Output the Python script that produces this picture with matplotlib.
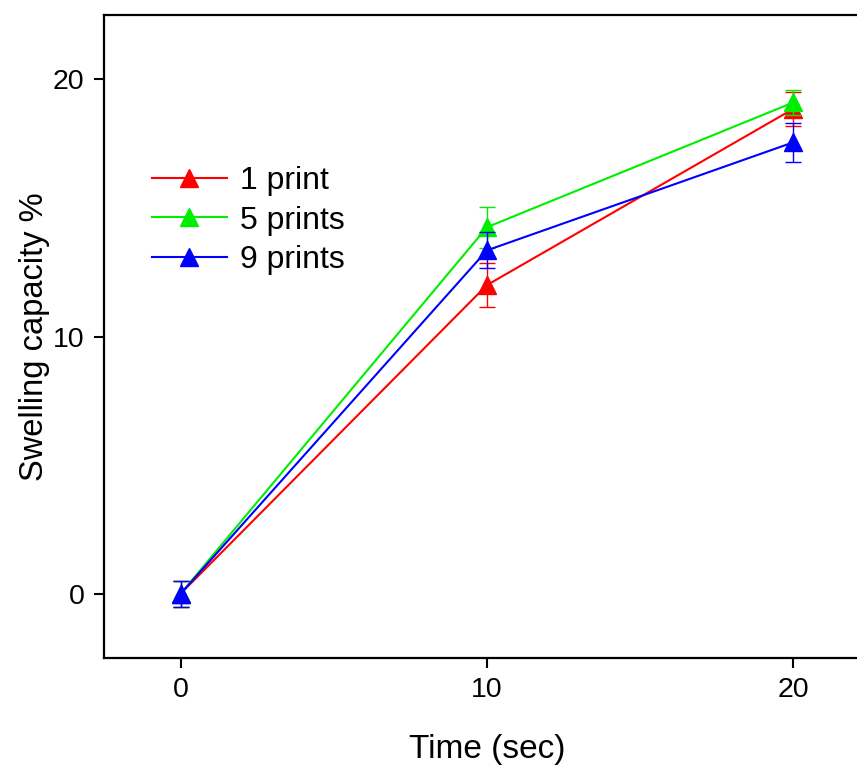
import matplotlib
matplotlib.use('Agg')
import matplotlib.pyplot as plt
import numpy as np

plt.rcParams['font.family'] = ['Liberation Sans', 'DejaVu Sans']

time = [0, 10, 20]
labels = ['1 print', '5 prints', '9 prints']
colors = ['#ff0000', '#00ee00', '#0000ff']
swelling = [
    [0.0, 12.0, 18.85],
    [0.0, 14.25, 19.1],
    [0.0, 13.35, 17.55],
]
errors = [
    [0.5, 0.85, 0.65],
    [0.5, 0.8, 0.5],
    [0.5, 0.7, 0.77],
]

fig = plt.figure(figsize=(8.57, 7.67), dpi=100)
ax = fig.add_axes([0.1214, 0.1421, 0.8936, 0.8383])

for y, e, c, lab in zip(swelling, errors, colors, labels):
    ax.errorbar(time, y, yerr=e, fmt='none', ecolor=c, elinewidth=1.0,
                capsize=6, capthick=1.0)
    ax.plot(time, y, color=c, marker='^', markersize=12.5, linewidth=1.5,
            label=lab)

ax.set_xlim(-2.5, 22.5)
ax.set_ylim(-2.5, 22.5)
ax.set_xticks([0, 10, 20])
ax.set_yticks([0, 10, 20])
ax.tick_params(direction='out', length=7, width=1.5, labelsize=20.5, pad=7)
for s in ax.spines.values():
    s.set_linewidth(1.6)

ax.set_xlabel('Time (sec)', fontsize=24, labelpad=22)
ax.set_ylabel('Swelling capacity %', fontsize=23.5, labelpad=2)

ax.legend(loc='upper left', bbox_to_anchor=(0.025, 0.81), frameon=False,
          fontsize=23, handlelength=2.35, labelspacing=0.3, handletextpad=0.4)

fig.savefig('out.png', dpi=100)
